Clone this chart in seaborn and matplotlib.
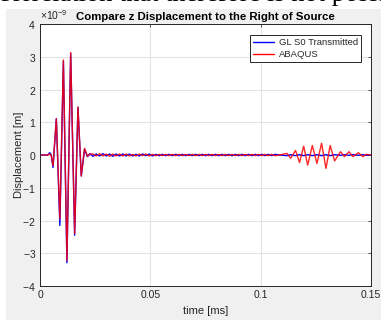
import matplotlib
matplotlib.use("Agg")
import matplotlib.pyplot as plt
import matplotlib.ticker as mticker
from matplotlib.patches import Rectangle
import seaborn as sns
import pandas as pd

# ---- data (displacement in units of 1e-9 m, time in ms) ----
pulse_time = [0.0, 0.0035, 0.0044, 0.0051, 0.0059, 0.0074, 0.0090, 0.0106, 0.0122,
              0.0139, 0.0157, 0.0172, 0.0187, 0.0202, 0.0215, 0.0226]
gl_pulse = [0.0, 0.0, 0.07, 0.0, -0.38, 1.11, -2.15, 2.87, -3.29,
            3.10, -2.45, 1.45, -0.64, 0.18, -0.05, 0.04]
abq_pulse = [0.0, 0.0, 0.03, -0.02, -0.33, 1.10, -1.95, 2.90, -3.22,
             3.13, -2.40, 1.47, -0.64, 0.20, -0.04, 0.03]

noise_time = [0.0240, 0.0255, 0.0270, 0.0285, 0.0300, 0.0315, 0.0330, 0.0345, 0.0360,
              0.0375, 0.0390, 0.0405, 0.0420, 0.0435, 0.0450, 0.0465, 0.0480, 0.0495,
              0.0510, 0.0525, 0.0540, 0.0555, 0.0570, 0.0585, 0.0600, 0.0615, 0.0630,
              0.0645, 0.0660, 0.0675, 0.0690, 0.0705, 0.0720, 0.0735, 0.0750, 0.0765,
              0.0780, 0.0795, 0.0810, 0.0825, 0.0840, 0.0855, 0.0870, 0.0885, 0.0900,
              0.0915, 0.0930, 0.0945, 0.0960, 0.0975, 0.0990, 0.1005, 0.1020, 0.1035,
              0.1050, 0.1065]
gl_noise = [-0.04, 0.03, -0.03, 0.04, -0.03, 0.03, -0.04, 0.03, -0.03, 0.03, -0.03, 0.03,
            -0.03, 0.02, -0.03, 0.03, -0.02, 0.03, -0.03, 0.02, -0.02, 0.02, -0.02, 0.02,
            -0.02, 0.02, -0.02, 0.02, -0.02, 0.02, -0.02, 0.02, -0.02, 0.02, -0.02, 0.02,
            -0.02, 0.02, -0.02, 0.02, -0.02, 0.02, -0.02, 0.02, -0.02, 0.02, -0.02, 0.02,
            -0.02, 0.02, -0.02, 0.02, -0.02, 0.02, -0.02, 0.02]
abq_noise = [0.03, -0.03, 0.04, -0.03, 0.03, -0.04, 0.03, -0.03, 0.03, -0.03, 0.03, -0.03,
             0.02, -0.03, 0.03, -0.02, 0.03, -0.03, 0.02, -0.02, 0.02, -0.02, 0.02, -0.02,
             0.02, -0.02, 0.02, -0.02, 0.02, -0.02, 0.02, -0.02, 0.02, -0.02, 0.02, -0.02,
             0.02, -0.02, 0.02, -0.02, 0.02, -0.02, 0.02, -0.02, 0.02, -0.02, 0.02, -0.02,
             0.02, -0.02, 0.02, -0.02, 0.02, -0.02, 0.02, -0.02]

tail_time = [0.1086, 0.1119, 0.1136, 0.1158, 0.1176, 0.1195, 0.1213, 0.1234, 0.1255,
             0.1276, 0.1296, 0.1315, 0.1335, 0.1362, 0.1380, 0.1400, 0.1418, 0.1443,
             0.1463, 0.1480, 0.1500]
gl_tail = [0.0, -0.02, 0.01, -0.02, 0.01, -0.02, 0.01, -0.02, 0.01,
           -0.02, 0.01, -0.02, 0.01, -0.01, 0.01, -0.01, 0.01, -0.01,
           0.01, -0.01, 0.0]
abq_tail = [0.0, 0.05, -0.10, 0.14, -0.23, 0.27, -0.31, 0.29, -0.26,
            0.36, -0.41, 0.29, -0.18, 0.10, -0.05, 0.10, -0.05, 0.07,
            -0.05, 0.02, 0.0]

series_names = ["GL S0 Transmitted", "ABAQUS"]
x_ticks = [0, 0.05, 0.1, 0.15]
x_tick_labels = ["0", "0.05", "0.1", "0.15"]
y_ticks = [-4, -3, -2, -1, 0, 1, 2, 3, 4]
page_text = "correlation that therefore is not possible"

# ---- build table ----
t_all = pulse_time + noise_time + tail_time
gl_all = gl_pulse + gl_noise + gl_tail
abq_all = abq_pulse + abq_noise + abq_tail
df = pd.DataFrame({
    "time": t_all + t_all,
    "disp": [v * 1e-9 for v in gl_all] + [v * 1e-9 for v in abq_all],
    "series": [series_names[0]] * len(t_all) + [series_names[1]] * len(t_all),
})

sns.set_style("white")
plt.rcParams["font.family"] = ["Liberation Sans", "DejaVu Sans"]
plt.rcParams["mathtext.fontset"] = "custom"
plt.rcParams["mathtext.rm"] = "Liberation Sans"

fig = plt.figure(figsize=(3.81, 3.20), dpi=100, facecolor="#f0f0f0")
# white document margins
fig.patches.append(Rectangle((0, 1 - 9 / 320), 1, 9 / 320, transform=fig.transFigure,
                             facecolor="white", edgecolor="none", zorder=0))
fig.patches.append(Rectangle((0, 0), 6 / 381, 1, transform=fig.transFigure,
                             facecolor="white", edgecolor="none", zorder=0))
fig.text(-0.005, 1 - 1.0 / 320, page_text, ha="left", va="baseline", fontsize=19,
         family=["Liberation Serif", "DejaVu Serif"], color="black")

ax = fig.add_axes([40 / 381, 34 / 320, 331 / 381, 262 / 320])
ax.set_facecolor("white")

sns.lineplot(data=df, x="time", y="disp", hue="series", hue_order=series_names,
             palette=["#0000ff", "#ff0000"], linewidth=1.0, ax=ax, sort=False,
             estimator=None)
for ln in ax.lines[1:2]:
    ln.set_alpha(0.85)

ax.set_xlim(0, 0.15)
ax.set_ylim(-4e-9, 4e-9)
ax.set_xticks(x_ticks)
ax.set_xticklabels(x_tick_labels)
ax.set_yticks([v * 1e-9 for v in y_ticks])
fmt = mticker.ScalarFormatter(useMathText=True)
fmt.set_powerlimits((0, 0))
ax.yaxis.set_major_formatter(fmt)
ax.yaxis.get_offset_text().set_fontsize(7.5)
ax.yaxis.get_offset_text().set_color("#404040")

ax.grid(True, color="#e3e3e3", linewidth=0.8)
ax.tick_params(direction="in", length=2.5, width=0.6, colors="#404040", labelsize=7.5,
               top=True, right=True, labelcolor="#262626", pad=3)
for sp in ax.spines.values():
    sp.set_color("#262626")
    sp.set_linewidth(0.7)

ax.set_xlabel("time [ms]", fontsize=8, color="#262626", labelpad=4)
ax.set_ylabel("Displacement [m]", fontsize=8, color="#262626", labelpad=-1)
ax.set_title("Compare z Displacement to the Right of Source", fontsize=8.2,
             fontweight="bold", color="black", pad=3)

leg = ax.legend(loc="upper right", fontsize=6.8, frameon=True, fancybox=False,
                edgecolor="#262626", framealpha=1, handlelength=2.2,
                borderpad=0.35, labelspacing=0.3, handletextpad=0.5,
                borderaxespad=0, bbox_to_anchor=(0.97, 0.958))
leg.get_frame().set_linewidth(0.7)

fig.savefig("out.png", dpi=100, facecolor=fig.get_facecolor())
